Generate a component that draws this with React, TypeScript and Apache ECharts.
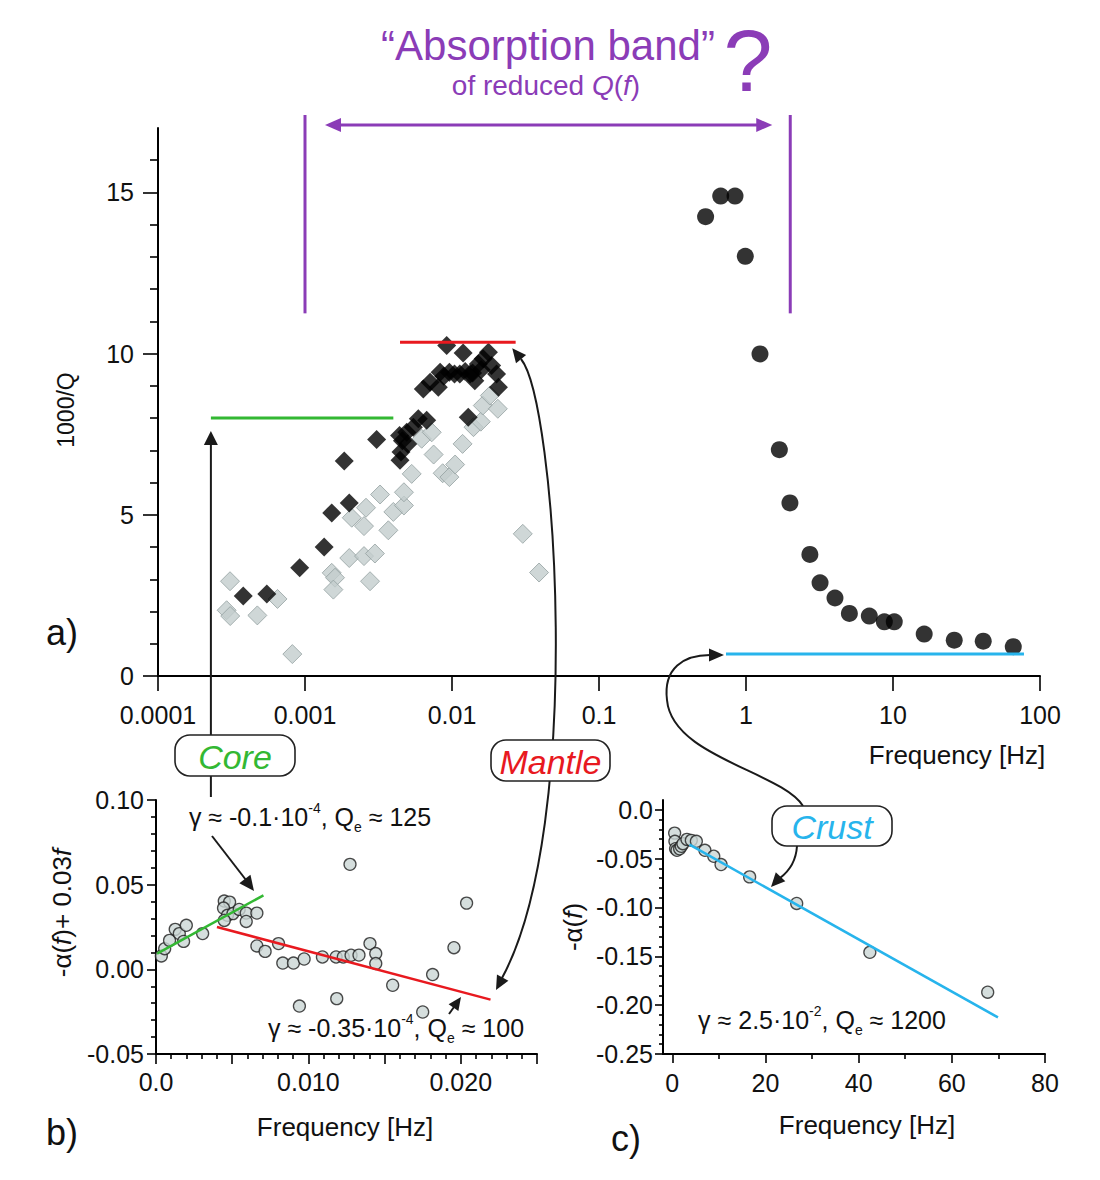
import React, { useEffect, useRef } from 'react';
import * as echarts from 'echarts';

const FONT = '"Liberation Sans", Arial, Helvetica, sans-serif';
const PURPLE = '#8b3cb7';
const GREEN = '#33b833';
const RED = '#e8191f';
const BLUE = '#27b4ec';
const INK = '#111111';

// ---------- panel a: 1000/Q vs frequency ----------
const grayDiamonds = [
  [3.09e-4, 2.94], [2.93e-4, 2.04], [3.1e-4, 1.86], [4.74e-4, 1.88], [6.5e-4, 2.39], [8.2e-4, 0.68],
  [1.52e-3, 3.2], [1.6e-3, 3.05], [1.56e-3, 2.68], [2.08e-3, 4.91], [2.0e-3, 3.66], [2.52e-3, 3.72],
  [2.99e-3, 3.8], [2.77e-3, 2.94], [2.52e-3, 4.65], [2.6e-3, 5.22], [3.24e-3, 5.63], [3.69e-3, 4.52],
  [3.99e-3, 5.09], [4.71e-3, 5.29], [4.71e-3, 5.7], [5.32e-3, 6.27], [6.22e-3, 7.36], [7.28e-3, 7.56],
  [7.5e-3, 6.87], [8.64e-3, 6.29], [9.6e-3, 6.17], [0.0105, 6.56], [0.0118, 7.2], [0.014, 7.72],
  [0.0157, 7.89], [0.0162, 8.39], [0.0181, 8.7], [0.0205, 8.29], [0.0303, 4.41], [0.0391, 3.21],
];
const blackDiamonds = [
  [3.8e-4, 2.48], [5.5e-4, 2.54], [9.2e-4, 3.36], [1.35e-3, 4.0], [1.52e-3, 5.06], [2.0e-3, 5.37],
  [1.85e-3, 6.67], [3.07e-3, 7.34], [4.43e-3, 6.69], [4.5e-3, 6.95], [4.4e-3, 7.46], [4.6e-3, 7.3],
  [4.92e-3, 7.56], [5.0e-3, 7.2], [5.46e-3, 7.72], [5.9e-3, 7.98], [6.73e-3, 7.93], [6.38e-3, 8.9],
  [7.1e-3, 9.11], [8.07e-3, 8.96], [8.3e-3, 9.42], [8.8e-3, 9.3], [9.2e-3, 10.25], [9.6e-3, 9.42],
  [0.0104, 9.37], [0.0113, 9.37], [0.0119, 10.02], [0.0123, 9.45], [0.0129, 8.03], [0.0133, 9.37],
  [0.0138, 9.4], [0.0143, 9.16], [0.0151, 9.68], [0.0158, 9.5], [0.0163, 9.84], [0.0177, 10.04],
  [0.0186, 9.63], [0.0201, 9.37], [0.0207, 8.96],
];
const blackCircles = [
  [0.531, 14.25], [0.673, 14.89], [0.842, 14.89], [0.989, 13.02], [1.245, 9.99], [1.686, 7.02],
  [1.99, 5.37], [2.72, 3.77], [3.19, 2.89], [4.03, 2.42], [5.05, 1.94], [6.9, 1.86], [8.73, 1.68],
  [10.2, 1.68], [16.3, 1.3], [26.1, 1.11], [41.1, 1.08], [65.8, 0.91],
];
const greenLevel = [[2.29e-4, 8.0], [3.99e-3, 8.0]];
const redLevel = [[4.43e-3, 10.35], [0.0271, 10.35]];
const blueLevel = [[0.731, 0.68], [77.8, 0.68]];
const bandEdges = [0.001, 2.0];
const bandBottomLevel = 11.25;
const aYMajor = [0, 5, 10, 15];
const aYMinor = [1, 2, 3, 4, 6, 7, 8, 9, 11, 12, 13, 14, 16];

// ---------- panel b: -alpha(f) + 0.03f ----------
const bPoints = [
  [0.00035, 0.0079], [0.00057, 0.0122], [0.00089, 0.0171], [0.00126, 0.0236], [0.00153, 0.0211],
  [0.00181, 0.0165], [0.00199, 0.026], [0.00306, 0.0211], [0.00448, 0.0403], [0.00483, 0.0397],
  [0.00443, 0.0362], [0.00469, 0.0319], [0.00505, 0.0329], [0.00448, 0.0289], [0.00546, 0.0354],
  [0.00592, 0.0332], [0.00592, 0.0283], [0.00662, 0.0332], [0.00662, 0.0138], [0.00716, 0.0106],
  [0.00804, 0.0152], [0.00832, 0.0037], [0.00902, 0.0037], [0.00972, 0.0061], [0.00941, -0.0217],
  [0.01092, 0.0073], [0.01182, 0.0073], [0.01229, 0.0073], [0.0128, 0.0083], [0.01332, 0.0084],
  [0.01273, 0.062], [0.01186, -0.0173], [0.01404, 0.0152], [0.01442, 0.0093], [0.01442, 0.0034],
  [0.01553, -0.0094], [0.0175, -0.0252], [0.01815, -0.0031], [0.01955, 0.0128], [0.02038, 0.0391],
];
const bGreenFit = [[0.00007, 0.0093], [0.00705, 0.0437]];
const bRedFit = [[0.004, 0.025], [0.02195, -0.0179]];

// ---------- panel c: -alpha(f) ----------
const cPoints = [
  [0.5, -0.0239], [0.56, -0.0323], [0.7, -0.0398], [1.0, -0.0415], [1.57, -0.04], [1.93, -0.0374],
  [2.28, -0.0347], [3.14, -0.0303], [4.08, -0.0313], [5.16, -0.0323], [7.0, -0.0415], [8.9, -0.0476],
  [10.46, -0.0561], [16.6, -0.0687], [26.7, -0.0959], [42.4, -0.1459], [67.7, -0.1867],
];
const cBlueFit = [[3.7, -0.0357], [69.9, -0.2126]];
const cXMajor = [0, 20, 40, 60, 80];
const cXMinor = [10, 30, 50, 70];
const cYMajor = [-0.25, -0.2, -0.15, -0.1, -0.05, 0];
const cYMinor = [-0.24, -0.23, -0.22, -0.21, -0.19, -0.18, -0.17, -0.16, -0.14, -0.13, -0.12, -0.11,
  -0.09, -0.08, -0.07, -0.06, -0.04, -0.03, -0.02, -0.01];

const axisLine = { show: true, onZero: false, lineStyle: { color: '#000', width: 2 } };
const tickLine = { color: '#000', width: 1.6 };
const lab = { color: INK, fontSize: 25, fontFamily: FONT };

function buildOption(): any {
  return {
    animation: false,
    backgroundColor: '#fff',
    grid: [
      { left: 158, top: 128, width: 882, height: 548 },
      { left: 156, top: 800, width: 381, height: 254 },
      { left: 663, top: 800, width: 382, height: 254 },
    ],
    xAxis: [
      {
        gridIndex: 0, type: 'log', logBase: 10, min: 0.0001, max: 100, splitNumber: 6, position: 'bottom',
        axisLine, splitLine: { show: false },
        axisTick: { show: true, length: 15, lineStyle: tickLine },
        axisLabel: { ...lab, margin: 26, formatter: (v: number) => String(+v.toPrecision(3)) },
      },
      {
        gridIndex: 1, type: 'value', min: 0, max: 0.025, interval: 0.005, position: 'bottom',
        axisLine, splitLine: { show: false },
        axisTick: { show: true, length: 10, lineStyle: tickLine },
        minorTick: { show: true, splitNumber: 5, length: 5, lineStyle: tickLine },
        axisLabel: {
          ...lab, margin: 15, showMaxLabel: false,
          formatter: (v: number) => {
            const k = Math.round(v * 1000);
            if (k === 0) return '0.0';
            if (k === 10) return '0.010';
            if (k === 20) return '0.020';
            return '';
          },
        },
      },
      {
        gridIndex: 2, type: 'value', min: -2, max: 80, position: 'bottom',
        axisLine, splitLine: { show: false },
        axisTick: { show: true, length: 9, lineStyle: tickLine, customValues: cXMajor },
        axisLabel: { ...lab, margin: 16, customValues: cXMajor },
      },
      {
        gridIndex: 2, type: 'value', min: -2, max: 80, position: 'bottom',
        axisLine: { show: false, onZero: false }, splitLine: { show: false },
        axisTick: { show: true, length: 5, lineStyle: tickLine, customValues: cXMinor },
        axisLabel: { show: false },
      },
    ],
    yAxis: [
      {
        gridIndex: 0, type: 'value', min: 0, max: 17, position: 'left',
        axisLine, splitLine: { show: false },
        axisTick: { show: true, length: 15, lineStyle: tickLine, customValues: aYMajor },
        axisLabel: { ...lab, margin: 24, customValues: aYMajor },
      },
      {
        gridIndex: 0, type: 'value', min: 0, max: 17, position: 'left',
        axisLine: { show: false, onZero: false }, splitLine: { show: false },
        axisTick: { show: true, length: 8, lineStyle: tickLine, customValues: aYMinor },
        axisLabel: { show: false },
      },
      {
        gridIndex: 1, type: 'value', min: -0.05, max: 0.1, interval: 0.05, position: 'left',
        axisLine, splitLine: { show: false },
        axisTick: { show: true, length: 9, lineStyle: tickLine },
        minorTick: { show: true, splitNumber: 5, length: 5, lineStyle: tickLine },
        axisLabel: { ...lab, margin: 12, formatter: (v: number) => v.toFixed(2) },
      },
      {
        gridIndex: 2, type: 'value', min: -0.25, max: 0.01, position: 'left',
        axisLine, splitLine: { show: false },
        axisTick: { show: true, length: 8, lineStyle: tickLine, customValues: cYMajor },
        axisLabel: {
          ...lab, margin: 10, customValues: cYMajor,
          formatter: (v: number) => (Math.abs(v) < 1e-9 ? '0.0' : v.toFixed(2)),
        },
      },
      {
        gridIndex: 2, type: 'value', min: -0.25, max: 0.01, position: 'left',
        axisLine: { show: false, onZero: false }, splitLine: { show: false },
        axisTick: { show: true, length: 4, lineStyle: tickLine, customValues: cYMinor },
        axisLabel: { show: false },
      },
    ],
    series: [
      {
        type: 'scatter', xAxisIndex: 0, yAxisIndex: 0, symbol: 'diamond', symbolSize: 19,
        itemStyle: { color: '#c3cdcd', borderColor: '#95a1a1', borderWidth: 1 }, data: grayDiamonds,
      },
      {
        type: 'scatter', xAxisIndex: 0, yAxisIndex: 0, symbol: 'diamond', symbolSize: 19,
        itemStyle: { color: '#000' }, data: blackDiamonds,
      },
      {
        type: 'scatter', xAxisIndex: 0, yAxisIndex: 0, symbol: 'circle', symbolSize: 17,
        itemStyle: { color: '#000' }, data: blackCircles,
      },
      { type: 'line', xAxisIndex: 0, yAxisIndex: 0, symbol: 'none', lineStyle: { color: GREEN, width: 3 }, data: greenLevel },
      { type: 'line', xAxisIndex: 0, yAxisIndex: 0, symbol: 'none', lineStyle: { color: RED, width: 3 }, data: redLevel },
      { type: 'line', xAxisIndex: 0, yAxisIndex: 0, symbol: 'none', lineStyle: { color: BLUE, width: 3 }, data: blueLevel },
      { type: 'line', xAxisIndex: 1, yAxisIndex: 2, symbol: 'none', lineStyle: { color: GREEN, width: 2.5 }, data: bGreenFit },
      { type: 'line', xAxisIndex: 1, yAxisIndex: 2, symbol: 'none', lineStyle: { color: RED, width: 2.5 }, data: bRedFit },
      {
        type: 'scatter', xAxisIndex: 1, yAxisIndex: 2, symbol: 'circle', symbolSize: 12,
        itemStyle: { color: '#cad6d4', borderColor: '#1e1e1e', borderWidth: 1.3 }, data: bPoints,
      },
      { type: 'line', xAxisIndex: 2, yAxisIndex: 3, symbol: 'none', lineStyle: { color: BLUE, width: 2.5 }, data: cBlueFit },
      {
        type: 'scatter', xAxisIndex: 2, yAxisIndex: 3, symbol: 'circle', symbolSize: 12,
        itemStyle: { color: '#cad6d4', borderColor: '#1e1e1e', borderWidth: 1.3 }, data: cPoints,
      },
    ],
  };
}

function arrowHead(tip: number[], dir: number[], len = 14, wid = 12, color = '#1a1a1a') {
  const m = Math.hypot(dir[0], dir[1]);
  const ux = dir[0] / m, uy = dir[1] / m;
  const bx = tip[0] - ux * len, by = tip[1] - uy * len;
  const nx = -uy, ny = ux;
  return {
    type: 'polygon', z: 6,
    shape: { points: [tip, [bx + (nx * wid) / 2, by + (ny * wid) / 2], [bx - (nx * wid) / 2, by - (ny * wid) / 2]] },
    style: { fill: color },
  };
}
function seg(x1: number, y1: number, x2: number, y2: number, color = '#1a1a1a', w = 2) {
  return { type: 'line', z: 5, shape: { x1, y1, x2, y2 }, style: { stroke: color, lineWidth: w } };
}
function bez(p0: number[], c1: number[], c2: number[], p1: number[], color = '#1a1a1a', w = 2) {
  return {
    type: 'bezierCurve', z: 5,
    shape: { x1: p0[0], y1: p0[1], cpx1: c1[0], cpy1: c1[1], cpx2: c2[0], cpy2: c2[1], x2: p1[0], y2: p1[1] },
    style: { stroke: color, lineWidth: w, fill: null },
  };
}
function txt(x: number, y: number, text: string, size: number, color: string, extra: any = {}, rotation = 0) {
  return {
    type: 'text', x, y, z: 20, rotation,
    style: {
      text, fontSize: size, fontFamily: FONT, fill: color,
      align: 'center', verticalAlign: 'middle', textAlign: 'center', textVerticalAlign: 'middle',
      ...extra,
    },
  };
}
function richFor(size: number, color: string) {
  return {
    n: { fontSize: size, fontFamily: FONT, fill: color, lineHeight: size + 8 },
    i: { fontSize: size, fontFamily: FONT, fill: color, fontStyle: 'italic', lineHeight: size + 8 },
    s: { fontSize: Math.round(size * 0.58), fontFamily: FONT, fill: color, verticalAlign: 'top', lineHeight: size + 8 },
    b: { fontSize: Math.round(size * 0.58), fontFamily: FONT, fill: color, verticalAlign: 'bottom', lineHeight: size + 8 },
  };
}
function callout(x: number, y: number, w: number, h: number, label: string, color: string) {
  return [
    { type: 'rect', z: 15, shape: { x, y, width: w, height: h, r: 15 }, style: { fill: '#fff', stroke: '#222', lineWidth: 1.6 } },
    { ...txt(x + w / 2, y + h / 2 + 1, label, 34, color, { fontStyle: 'italic' }), z: 16 },
  ];
}

function buildGraphics(toPx: (si: number, p: number[]) => number[]) {
  const g: any[] = [];
  // purple absorption band
  const lx = toPx(0, [bandEdges[0], 5])[0];
  const rx = toPx(0, [bandEdges[1], 5])[0];
  const bandBottom = toPx(0, [1, bandBottomLevel])[1];
  g.push(seg(lx, 115, lx, bandBottom, PURPLE, 3));
  g.push(seg(rx, 115, rx, bandBottom, PURPLE, 3));
  const ay = 125;
  g.push(seg(lx + 34, ay, rx - 32, ay, PURPLE, 3));
  g.push(arrowHead([lx + 20, ay], [-1, 0], 16, 14, PURPLE));
  g.push(arrowHead([rx - 18, ay], [1, 0], 16, 14, PURPLE));
  g.push(txt(548, 45, '\u201CAbsorption band\u201D', 42, PURPLE));
  g.push(txt(546, 85, '{n|of reduced }{i|Q}{n|(}{i|f}{n|)}', 28, PURPLE, { rich: richFor(28, PURPLE) }));
  g.push(txt(748, 60, '?', 88, PURPLE));

  // Core arrow
  const gStart = toPx(3, greenLevel[0]);
  const coreTip = [gStart[0], gStart[1] + 13];
  g.push(seg(gStart[0], 797, gStart[0], coreTip[1] + 12));
  g.push(arrowHead(coreTip, [0, -1], 14, 14));

  // Mantle arrow (a red level -> b red fit)
  const mS = [521, 359], mC1 = [556, 402], mC2 = [585, 825], mE = [502, 978];
  g.push(bez(mS, mC1, mC2, mE));
  g.push(arrowHead([mS[0] + (mS[0] - mC1[0]) * 0.25, mS[1] + (mS[1] - mC1[1]) * 0.25], [mS[0] - mC1[0], mS[1] - mC1[1]], 14, 13));
  g.push(arrowHead([mE[0] - 6, mE[1] + 12], [mE[0] - mC2[0], mE[1] - mC2[1]], 14, 13));

  // Crust arrows
  g.push(bez([803, 806], [782, 772], [672, 757], [667, 700]));
  g.push(bez([667, 700], [663, 668], [684, 655], [710, 655]));
  g.push(arrowHead([724, 655], [1, 0], 15, 13));
  g.push(bez([797, 846], [796, 862], [788, 872], [780, 878]));
  g.push(arrowHead([771, 887], [-0.7, 0.75], 14, 13));

  // panel b small arrows
  g.push(seg(212, 836, 246, 880));
  g.push(arrowHead([254, 891], [42, 55], 15, 14));
  g.push(seg(449, 1014, 454, 1007));
  g.push(arrowHead([461, 997], [12, -17], 13, 12));

  // callouts
  g.push(...callout(175, 735, 120, 41, 'Core', GREEN));
  g.push(...callout(491, 740, 119, 41, 'Mantle', RED));
  g.push(...callout(772, 806, 120, 40, 'Crust', BLUE));

  // fit annotations
  const r26 = richFor(25, INK);
  g.push(txt(310, 817, '{n|\u03B3 \u2248 -0.1\u00B710}{s|-4}{n|, Q}{b|e}{n| \u2248 125}', 25, INK, { rich: r26 }));
  g.push(txt(396, 1028, '{n|\u03B3 \u2248 -0.35\u00B710}{s|-4}{n|, Q}{b|e}{n| \u2248 100}', 25, INK, { rich: r26 }));
  g.push(txt(822, 1020, '{n|\u03B3 \u2248 2.5\u00B710}{s|-2}{n|, Q}{b|e}{n| \u2248 1200}', 25, INK, { rich: r26 }));

  // axis names
  g.push(txt(66, 410, '1000/Q', 23, INK, {}, Math.PI / 2));
  g.push(txt(957, 755, 'Frequency [Hz]', 26, INK));
  g.push(txt(345, 1127, 'Frequency [Hz]', 26, INK));
  g.push(txt(867, 1125, 'Frequency [Hz]', 26, INK));
  g.push(txt(62, 913, '{n|-\u03B1(}{i|f}{n|)+ 0.03}{i|f}', 26, INK, { rich: richFor(26, INK) }, Math.PI / 2));
  g.push(txt(573, 927, '{n|-\u03B1(}{i|f}{n|)}', 26, INK, { rich: richFor(26, INK) }, Math.PI / 2));

  // panel letters
  g.push(txt(62, 632, 'a)', 36, INK));
  g.push(txt(62, 1132, 'b)', 36, INK));
  g.push(txt(626, 1138, 'c)', 36, INK));
  return g;
}

export default function App() {
  const ref = useRef<HTMLDivElement>(null);
  useEffect(() => {
    document.body.style.margin = '0';
    const chart = echarts.init(ref.current as HTMLDivElement, null, { renderer: 'svg' });
    chart.setOption(buildOption());
    const toPx = (si: number, p: number[]) => chart.convertToPixel({ seriesIndex: si }, p) as number[];
    chart.setOption({ graphic: buildGraphics(toPx) });
    return () => chart.dispose();
  }, []);
  return <div ref={ref} style={{ width: 1100, height: 1180 }} />;
}
